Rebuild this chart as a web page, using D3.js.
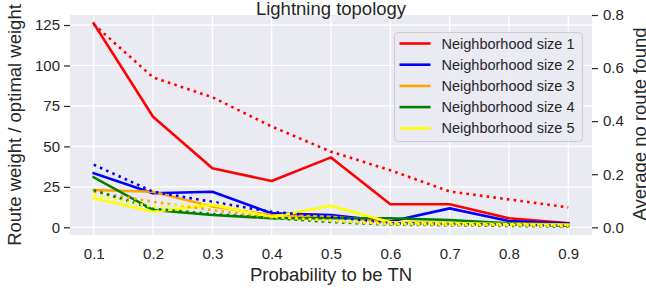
<!DOCTYPE html>
<html>
<head>
<meta charset="utf-8">
<script src="https://cdn.jsdelivr.net/npm/d3@7"></script>
<style>
  body { margin: 0; background: #fff; }
  text { font-family: "Liberation Sans", Arial, sans-serif; fill: #262626; }
</style>
</head>
<body>
<div id="chart"></div>
<script>
// x values
const probs = [0.1, 0.2, 0.3, 0.4, 0.5, 0.6, 0.7, 0.8, 0.9];

// route weight / optimal weight (left axis, solid)
const weight1 = [126, 68.3, 36.5, 28.6, 43.2, 14.2, 14.2, 5.6, 2.5];
const weight2 = [33.4, 21, 22, 8.6, 7.6, 3.6, 11.7, 3.9, 2.3];
const weight3 = [23, 22, 12.9, 7.6, 6.5, 3.3, 2.7, 2.3, 1.7];
const weight4 = [30.9, 10.7, 7.6, 5.6, 5.6, 5.6, 4.5, 2.5, 0.8];
const weight5 = [17.9, 9.6, 13.8, 6.4, 13.3, 3.1, 2.5, 2, 1.4];

// average no route found (right axis, dotted)
const noRoute1 = [0.765, 0.565, 0.49, 0.38, 0.285, 0.215, 0.135, 0.105, 0.075];
const noRoute2 = [0.236, 0.134, 0.096, 0.058, 0.04, 0.015, 0.012, 0.01, 0.005];
const noRoute3 = [0.134, 0.096, 0.065, 0.035, 0.025, 0.012, 0.01, 0.008, 0.005];
const noRoute4 = [0.14, 0.07, 0.05, 0.035, 0.02, 0.01, 0.008, 0.005, 0.003];
const noRoute5 = [0.121, 0.077, 0.09, 0.04, 0.025, 0.012, 0.01, 0.008, 0.005];

const names = ["Neighborhood size 1", "Neighborhood size 2", "Neighborhood size 3",
               "Neighborhood size 4", "Neighborhood size 5"];
const colors = ["#ff0000", "#0000ff", "#ffa500", "#008000", "#ffff00"];

const leftTicks = [0, 25, 50, 75, 100, 125];
const rightTicks = [0.0, 0.2, 0.4, 0.6, 0.8];

const weights = [weight1, weight2, weight3, weight4, weight5];
const noRoutes = [noRoute1, noRoute2, noRoute3, noRoute4, noRoute5];

const W = 646, H = 290;
const m = {left: 70, right: 592, top: 15, bottom: 235};

let svg = d3.select("#chart").append("svg")
    .attr("width", W)
    .attr("height", H);

let x = d3.scaleLinear().domain([0.06, 0.94]).range([m.left, m.right]);
let yL = d3.scaleLinear().domain([-4.76, 131.2]).range([m.bottom, m.top]);
let yR = d3.scaleLinear().domain([-0.029, 0.8]).range([m.bottom, m.top]);

// background
svg.append("rect")
    .attr("x", m.left).attr("y", m.top)
    .attr("width", m.right - m.left).attr("height", m.bottom - m.top)
    .attr("fill", "#eaeaf2");

// grid (only the left axis draws horizontal grid lines)
let grid = svg.append("g").attr("stroke", "#fff").attr("stroke-width", 1.2);
grid.selectAll("line.v").data(probs).enter().append("line")
    .attr("x1", d => x(d)).attr("x2", d => x(d))
    .attr("y1", m.top).attr("y2", m.bottom);
grid.selectAll("line.h").data(leftTicks).enter().append("line")
    .attr("x1", m.left).attr("x2", m.right)
    .attr("y1", d => yL(d)).attr("y2", d => yL(d));

// axes
let xAxis = svg.append("g")
    .attr("transform", `translate(0,${m.bottom})`)
    .call(d3.axisBottom(x).tickValues(probs).tickSize(0).tickPadding(13).tickFormat(d3.format(".1f")));
let lAxis = svg.append("g")
    .attr("transform", `translate(${m.left},0)`)
    .call(d3.axisLeft(yL).tickValues(leftTicks).tickSize(6).tickPadding(4));
let rAxis = svg.append("g")
    .attr("transform", `translate(${m.right},0)`)
    .call(d3.axisRight(yR).tickValues(rightTicks).tickSize(6).tickPadding(5).tickFormat(d3.format(".1f")));

[xAxis, lAxis, rAxis].forEach(a => {
  a.select(".domain").remove();
  a.selectAll(".tick line").attr("stroke", "#262626").attr("stroke-width", 1.2);
  a.selectAll(".tick text")
      .style("font-family", '"Liberation Sans", Arial, sans-serif')
      .style("font-size", "15px").attr("fill", "#262626");
});

// lines
let line = (ys) => d3.line().x((d, i) => x(probs[i])).y(d => ys(d));

let plot = svg.append("g");
weights.forEach((w, i) => {
  plot.append("path")
      .datum(w)
      .attr("d", line(yL))
      .attr("fill", "none")
      .attr("stroke", colors[i])
      .attr("stroke-width", 2.6)
      .attr("stroke-linejoin", "round")
      .attr("stroke-linecap", "square");
});
noRoutes.forEach((r, i) => {
  plot.append("path")
      .datum(r)
      .attr("d", line(yR))
      .attr("fill", "none")
      .attr("stroke", colors[i])
      .attr("stroke-width", 2.6)
      .attr("stroke-dasharray", "2.6,4.2");
});

// title and labels
svg.append("text")
    .attr("x", (m.left + m.right) / 2).attr("y", 15)
    .attr("text-anchor", "middle")
    .style("font-size", "18.5px")
    .text("Lightning topology");

svg.append("text")
    .attr("x", (m.left + m.right) / 2).attr("y", 281)
    .attr("text-anchor", "middle")
    .style("font-size", "18.5px")
    .text("Probability to be TN");

svg.append("text")
    .attr("transform", `translate(21,${(m.top + m.bottom) / 2}) rotate(-90)`)
    .attr("text-anchor", "middle")
    .style("font-size", "18.5px")
    .text("Route weight / optimal weight");

svg.append("text")
    .attr("transform", `translate(646,${(m.top + m.bottom) / 2 - 1}) rotate(-90)`)
    .attr("text-anchor", "middle")
    .style("font-size", "18.5px")
    .text("Average no route found");

// legend
let legend = svg.append("g").attr("transform", "translate(394.5,32.5)");
legend.append("rect")
    .attr("width", 188).attr("height", 109)
    .attr("rx", 4)
    .attr("fill", "#eaeaf2").attr("fill-opacity", 0.85)
    .attr("stroke", "#cccccc").attr("stroke-width", 1);

let rows = legend.selectAll("g.row").data(names).enter().append("g")
    .attr("transform", (d, i) => `translate(0,${11 + i * 21.2})`);
rows.append("line")
    .attr("x1", 5).attr("x2", 36)
    .attr("stroke", (d, i) => colors[i])
    .attr("stroke-width", 2.6);
rows.append("text")
    .attr("x", 47).attr("y", 5)
    .style("font-size", "14.5px")
    .text(d => d);
</script>
</body>
</html>
